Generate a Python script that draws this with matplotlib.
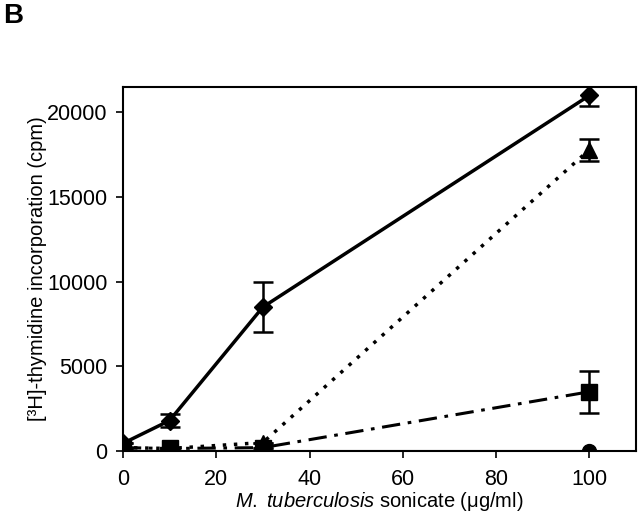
import matplotlib
matplotlib.use("Agg")
import matplotlib.pyplot as plt

plt.rcParams['font.family'] = ['Liberation Sans', 'DejaVu Sans']
plt.rcParams['mathtext.fontset'] = 'custom'
plt.rcParams['mathtext.rm'] = 'Liberation Sans'
plt.rcParams['mathtext.it'] = 'Liberation Sans:italic'

# M. tuberculosis sonicate (ug/ml)
dose = [0, 10, 30, 100]

# series
diamond = [450, 1800, 8500, 21000]
diamond_err = [0, 400, 1500, 600]
triangle = [200, 150, 500, 17800]
triangle_err = [0, 0, 0, 650]
square = [200, 150, 200, 3500]
square_err = [0, 0, 0, 1250]
circle = [30, 30, 30, 30]

fig = plt.figure(figsize=(6.4, 5.3), dpi=100)
ax = fig.add_axes([0.192, 0.149, 0.802, 0.687])

ax.plot(dose, circle, color='black', lw=2.2, marker='o', ms=10, zorder=3)
ax.errorbar(dose, triangle, yerr=triangle_err, color='black', lw=2.5,
            ls=(0, (1, 2.2)), marker='^', ms=11, capsize=7,
            elinewidth=1.8, capthick=1.8, zorder=4)
ax.errorbar(dose, square, yerr=square_err, color='black', lw=2.2,
            ls=(0, (6, 2.5, 1.2, 2.5)), marker='s', ms=11, capsize=7,
            elinewidth=1.8, capthick=1.8, zorder=4)
ax.errorbar(dose, diamond, yerr=diamond_err, color='black', lw=2.5,
            marker='D', ms=9, capsize=7, elinewidth=1.8, capthick=1.8, zorder=5)

ax.set_xlim(0, 110)
ax.set_ylim(0, 21500)
ax.set_xticks([0, 20, 40, 60, 80, 100])
ax.set_yticks([0, 5000, 10000, 15000, 20000])
for sp in ax.spines.values():
    sp.set_linewidth(1.5)
    sp.set_clip_on(False)
ax.tick_params(direction='out', length=5, width=1.2, labelsize=15.5)
ax.tick_params(axis='x', pad=8)
ax.tick_params(axis='y', pad=6)

ax.set_xlabel(r'$\it{M.\ tuberculosis}$ sonicate (μg/ml)', fontsize=14.5, labelpad=0)
ax.set_ylabel('[³H]-thymidine incorporation (cpm)', fontsize=14.5, labelpad=0)

fig.text(0.005, 0.995, 'B', fontsize=20, fontweight='bold', va='top', ha='left')

fig.savefig('out.png', dpi=100)
